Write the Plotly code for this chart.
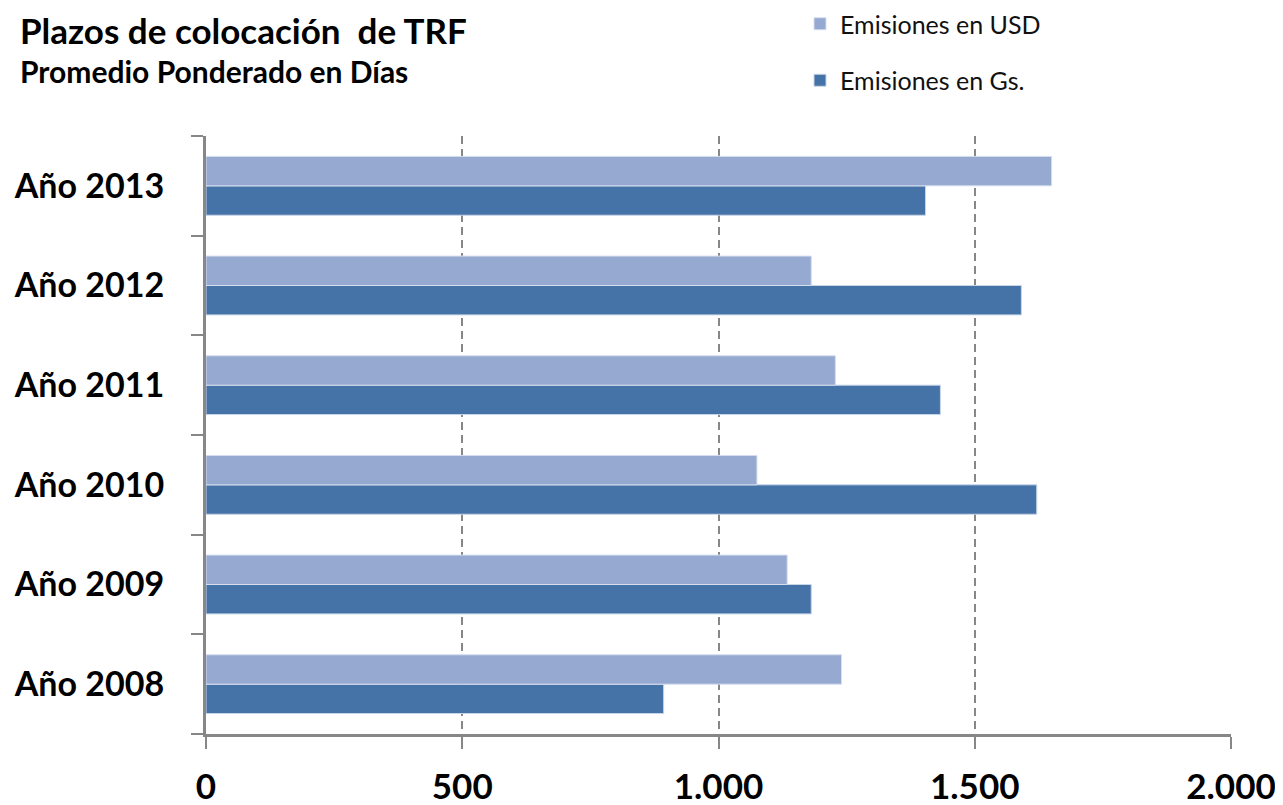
import plotly.graph_objects as go

categories = ["Año 2008", "Año 2009", "Año 2010", "Año 2011", "Año 2012", "Año 2013"]
usd_values = [1240, 1134, 1075, 1228, 1181, 1650]
gs_values = [893, 1181, 1621, 1433, 1591, 1404]
x_ticks = [0, 500, 1000, 1500, 2000]

FONT = "Lato"
C_USD = "#95A9D1"
C_GS = "#4573A7"
GRAY = "#878787"

# page body has an 8px margin; size the figure so it fits the 1283x805 window
OFF = 8
W, H = 1283 - OFF, 805 - OFF
ML, MR, MT, MB = 206 - OFF, 52, 136 - OFF, 71


def px_to_paper(px, py):
    """target-screenshot pixel -> paper coords"""
    pw = W - ML - MR
    ph = H - MT - MB
    return (px - OFF - ML) / pw, 1 + (MT - (py - OFF)) / ph


fig = go.Figure()
fig.add_trace(go.Bar(
    y=categories, x=gs_values, orientation="h", name="Emisiones en Gs.",
    marker=dict(color=C_GS, line=dict(color="#C9D6E8", width=1)),
    legendgroup="gs", legendrank=2,
))
fig.add_trace(go.Bar(
    y=categories, x=usd_values, orientation="h", name="Emisiones en USD",
    marker=dict(color=C_USD, line=dict(color="#D5DDEE", width=1)),
    legendgroup="usd", legendrank=1,
))

tx, ty = px_to_paper(18, 30)
sx, sy = px_to_paper(18, 71)
lx, ly = px_to_paper(800, 1)

fig.update_layout(
    width=W, height=H,
    margin=dict(l=ML, r=MR, t=MT, b=MB, autoexpand=False),
    paper_bgcolor="white", plot_bgcolor="white",
    barmode="group", bargap=0.41, bargroupgap=0,
    separators=",.",
    font=dict(family=FONT, color="black"),
    showlegend=True,
    legend=dict(
        xref="paper", yref="paper",
        x=lx, y=ly, xanchor="left", yanchor="top",
        traceorder="grouped", tracegroupgap=21,
        font=dict(family=FONT, size=25, color="#111111"),
        itemwidth=30, bgcolor="rgba(0,0,0,0)",
    ),
    xaxis=dict(
        range=[0, 2000], tickvals=x_ticks, tickformat=",d",
        showgrid=True, gridcolor=GRAY, griddash="8px,5px", gridwidth=2,
        showline=True, linecolor=GRAY, linewidth=3,
        ticks="outside", ticklen=12, tickwidth=2, tickcolor=GRAY,
        tickfont=dict(family=FONT, size=35, color="black", weight="bold"),
        ticklabelstandoff=8, zeroline=False, automargin=False,
    ),
    yaxis=dict(
        type="category", categoryorder="array", categoryarray=categories,
        showgrid=False, showline=True, linecolor=GRAY, linewidth=3,
        ticks="outside", ticklen=12, tickwidth=2, tickcolor=GRAY,
        tickson="boundaries",
        tickfont=dict(family=FONT, size=34, color="black", weight="bold"),
        ticklabelstandoff=32, automargin=False,
    ),
    annotations=[
        dict(text="Plazos de colocación&nbsp; de TRF", x=tx, y=ty,
             xref="paper", yref="paper", showarrow=False,
             font=dict(family=FONT, size=35, color="black", weight="bold"),
             xanchor="left", yanchor="middle"),
        dict(text="Promedio Ponderado en Días", x=sx, y=sy,
             xref="paper", yref="paper", showarrow=False,
             font=dict(family=FONT, size=30, color="black", weight="bold"),
             xanchor="left", yanchor="middle"),
    ],
)

fig.write_html("out.html")
